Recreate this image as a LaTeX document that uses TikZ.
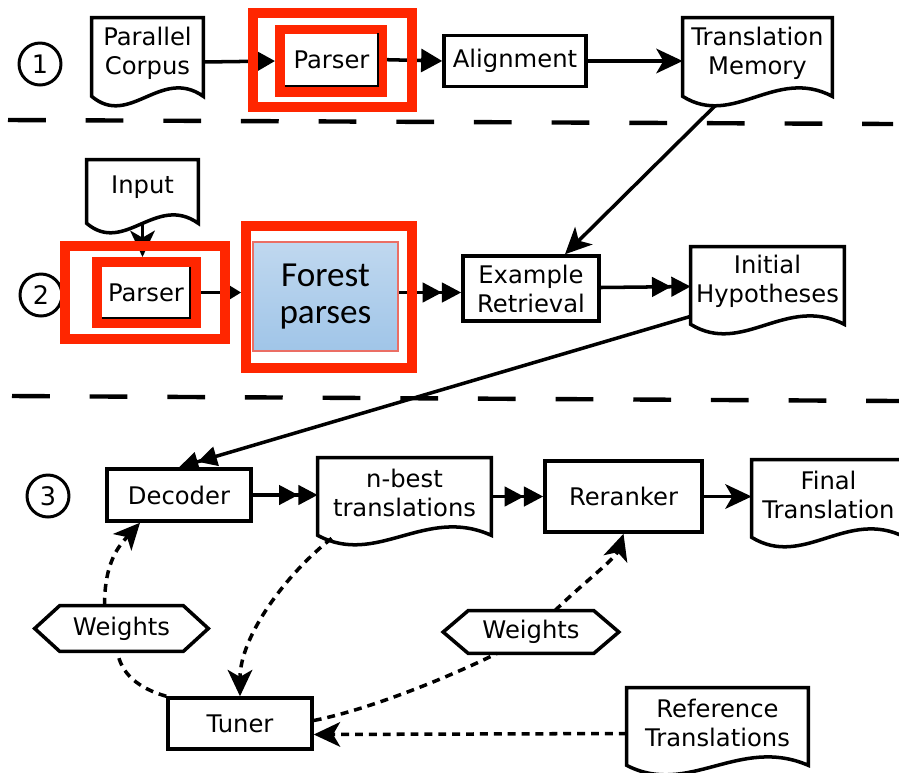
\documentclass[tikz,border=0pt]{standalone}
\usepackage{fontspec}
\setmainfont{DejaVu Sans}
\newfontfamily\forestfont{Carlito}
\usepackage{xcolor}
\usetikzlibrary{arrows.meta}
\usetikzlibrary{calc}
\pgfdeclarelayer{bg}
\pgfsetlayers{bg,main}

\definecolor{redf}{RGB}{255,38,0}
\definecolor{fbtop}{RGB}{192,216,239}
\definecolor{fbbot}{RGB}{160,197,232}
\definecolor{fbline}{RGB}{235,110,100}

\begin{document}
\begin{tikzpicture}[x=0.02cm, y=-0.02cm]
        % ================= 样式定义 =================
        \tikzset{
            % 普通方框
            box/.style={draw=black, line width=2pt, fill=white, inner sep=0pt, align=center, font=\fontsize{13.8}{16.5}\selectfont},
            % 文档形状 (外框另画)
            doc/.style={inner sep=0pt, align=center, font=\fontsize{13.8}{16.5}\selectfont},
            docline/.style={line width=2pt, black, line join=miter},
            % 步骤编号圆圈
            circ/.style={circle, draw=black, line width=1.7pt, minimum size=0.84cm, inner sep=0pt, font=\fontsize{14.5}{16}\selectfont},
            % 红色强调框
            redframe/.style={draw=redf, line width=5.7pt, inner sep=0pt},
            % Parser 白框
            pbox/.style={fill=white, inner sep=0pt, font=\fontsize{13.8}{16.5}\selectfont},
            % 连线与箭头
            conn/.style={line width=2pt, black},
            tri/.style={conn, -{Triangle[length=12pt,width=13pt]}},
            dtri/.style={conn, -{Triangle[length=11pt,width=11pt]Triangle[length=11pt,width=11pt]}},
            stl/.style={conn, -{Stealth[length=15pt,width=14pt,inset=4pt]}},
            dsh/.style={conn, dash pattern=on 4.5pt off 3.4pt},
            sepline/.style={line width=2.5pt, black, dash pattern=on 21.5pt off 22.7pt}
        }

        \useasboundingbox (0,0) rectangle (899,772);
        \clip (0,0) rectangle (899,772);

        % ================= 1. 分隔虚线 =================
        \draw[sepline] (8,120) -- (893,124);
        \draw[sepline] (12,396) -- (899,401);

        % ================= 2. 第一行 =================
        \node[circ] (c1) at (40,64) {1};
        \node[doc, minimum width=2.22cm, minimum height=1.4cm] (corpus) at (147.5,53) {Parallel\\Corpus};
        \node[redframe, minimum width=3.18cm, minimum height=1.88cm] (f1out) at (332.5,60) {};
        \node[redframe, minimum width=2.04cm, minimum height=1.24cm] (f1in) at (331,61) {};
        \node[pbox, minimum width=1.86cm, minimum height=1.04cm] (p1) at (331.5,59.5) {Parser};
        \node[box, minimum width=2.84cm, minimum height=1.02cm] (align) at (515,61) {Alignment};
        \node[doc, minimum width=2.98cm, minimum height=1.4cm] (tm) at (757.5,53) {Translation\\Memory};

        % ================= 3. 第二行 =================
        \node[circ] (c2) at (41,295) {2};
        \node[doc, minimum width=2.22cm, minimum height=1.1cm] (input) at (142.5,187.5) {Input};
        \node[redframe, minimum width=3.2cm, minimum height=1.86cm] (f2out) at (145,292.5) {};
        \node[redframe, minimum width=1.98cm, minimum height=1.22cm] (f2in) at (146.5,292.5) {};
        \node[pbox, minimum width=1.76cm, minimum height=1.02cm] (p2) at (146,292.5) {Parser};
        \node[redframe, minimum width=3.32cm, minimum height=2.84cm] (fframe) at (329,297) {};
        \node[draw=fbline, line width=0.6pt, top color=fbtop, bottom color=fbbot, inner sep=0pt,
              minimum width=2.9cm, minimum height=2.18cm, align=center,
              font=\forestfont\fontsize{20}{21}\selectfont] (fbox) at (325.5,296.5) {Forest\\parses};
        \node[box, minimum width=2.72cm, minimum height=1.3cm] (example) at (531,288.5) {Example\\Retrieval};
        \node[doc, minimum width=3.06cm, minimum height=1.38cm] (hyp) at (767.5,281.5) {Initial\\Hypotheses};

        % ================= 4. 第三行 =================
        \node[circ] (c3) at (48,496) {3};
        \node[box, minimum width=2.88cm, minimum height=1.04cm] (decoder) at (179,495) {Decoder};
        \node[doc, minimum width=3.46cm, minimum height=1.38cm] (nbest) at (404.5,492.5) {n-best\\translations};
        \node[box, minimum width=3.14cm, minimum height=1.42cm] (reranker) at (623.5,496.5) {Reranker};
        \node[doc, minimum width=3.06cm, minimum height=1.38cm] (final) at (828.5,494.5) {Final\\Translation};
        \node[doc, minimum width=2.46cm, minimum height=0.9cm] (w1) at (121.5,628.5) {Weights};
        \node[doc, minimum width=2.5cm, minimum height=0.84cm] (w2) at (531,632) {Weights};
        \node[box, minimum width=2.88cm, minimum height=1.02cm] (tuner) at (240,723.5) {Tuner};
        \node[doc, minimum width=3.62cm, minimum height=1.38cm] (ref) at (717.5,722.5) {Reference\\Translations};

        % Parser 框的右下黑边
        \foreach \p in {p1,p2}
            \draw[line width=1pt] (\p.north east) -- (\p.south east) -- (\p.south west);

        % 文档外形 (波浪底边)
        \foreach \d in {corpus,tm,input,hyp,nbest,final,ref}
            \draw[docline] ($(\d.south west)+(0,8)$) -- (\d.north west) -- (\d.north east) -- ($(\d.south east)+(0,8)$)
                .. controls ($(\d.south east)!0.38!(\d.south west)+(0,-22)$) and ($(\d.south west)!0.34!(\d.south east)+(0,40)$) .. ($(\d.south west)+(0,8)$) -- cycle;

        % 六边形 Weights
        \foreach \w in {w1,w2}
            \draw[docline] (\w.north west) -- (\w.north east) -- ($(\w.east)+(25,0)$) -- (\w.south east)
                -- (\w.south west) -- ($(\w.west)+(-25,0)$) -- cycle;

        % ================= 5. 连线 =================
        \begin{pgfonlayer}{bg}
        \draw[tri] ($(corpus.east)+(0,9)$) -- (f1in.west);
        \draw[tri] (p1.east) -- (align.west);
        \draw[stl] (align.east) -- (tm.west |- align.east);
        \draw[stl] ($(tm.south)+(-42,17)$) -- ($(example.north)+(34,0)$);

        \draw[stl] ($(input.south)+(0,8)$) -- (input.south |- f2in.north);
        \draw[conn, -{Stealth[length=9pt,width=11pt,inset=3pt]}] (p2.east) -- (fframe.west |- p2.east);
        \draw[dtri] ($(fbox.east)+(0,-4)$) -- ($(example.west)+(0,4)$);
        \draw[dtri] ($(example.east)+(0,-1)$) -- ($(hyp.west |- example.east)+(0,-2)$);
        \draw[dtri] (hyp.south west) -- (decoder.north);

        \draw[dtri] (decoder.east) -- (nbest.west |- decoder.east);
        \draw[dtri] (nbest.east |- reranker.west) -- (reranker.west);
        \draw[stl] (reranker.east) -- (final.west |- reranker.east);

        % 虚线: 调参回路
        \draw[dsh, -{Stealth[length=15pt,width=14pt,inset=4pt]}] ($(w1.north)+(-17,0)$) .. controls +(0,-45) and +(-20,22) .. ($(decoder.south)+(-39,0)$);
        \draw[dsh] (tuner.north west) .. controls +(-28,-8) and +(3,22) .. ($(w1.south)+(-4,0)$);
        \draw[dsh, -{Stealth[length=15pt,width=14pt,inset=4pt]}] ($(nbest.south west)+(14,11)$) .. controls +(-45,35) and +(0,-60) .. (tuner.north);
        \draw[dsh] ($(tuner.east)+(0,-3)$) .. controls +(60,-12) and +(-40,20) .. ($(w2.south)+(-34,0)$);
        \draw[dsh, -{Stealth[length=15pt,width=14pt,inset=4pt]}] ($(w2.north)+(24,0)$) .. controls +(25,-25) and +(-8,25) .. (reranker.south);
        \draw[dsh, -{Stealth[length=15pt,width=14pt,inset=4pt]}] ($(ref.west)+(0,11)$) -- ($(tuner.east)+(0,11)$);
        \end{pgfonlayer}

    \end{tikzpicture}
\end{document}
